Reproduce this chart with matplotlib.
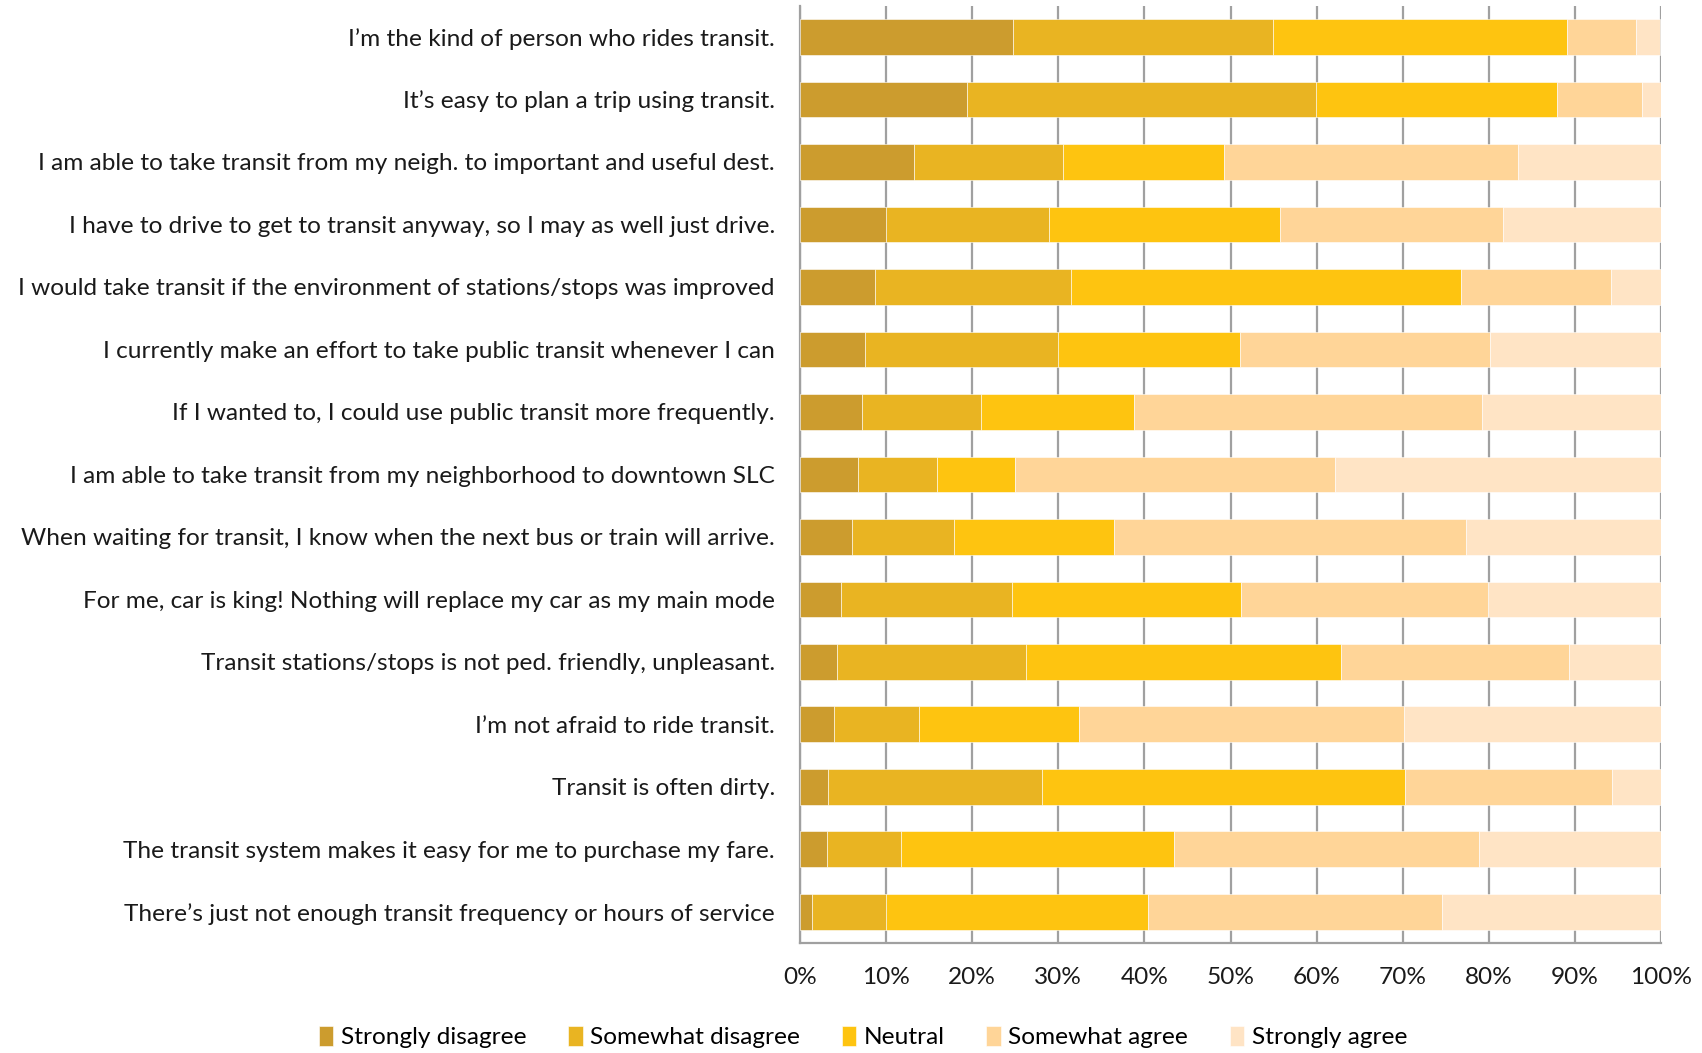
import matplotlib.pyplot as plt
import numpy as np

# ---------------------------
# Data (percent of respondents)
# ---------------------------
statements = [
    "I\u2019m the kind of person who rides transit.",
    "It\u2019s easy to plan a trip using transit.",
    "I am able to take transit from my neigh. to important and useful dest.",
    "I have to drive to get to transit anyway, so I may as well just drive.",
    "I would take transit if the environment of stations/stops was improved",
    "I currently make an effort to take public transit whenever I can",
    "If I wanted to, I could use public transit more frequently.",
    "I am able to take transit from my neighborhood to downtown SLC",
    "When waiting for transit, I know when the next bus or train will arrive.",
    "For me, car is king! Nothing will replace my car as my main mode",
    "Transit stations/stops is not ped. friendly, unpleasant.",
    "I\u2019m not afraid to ride transit.",
    "Transit is often dirty.",
    "The transit system makes it easy for me to purchase my fare.",
    "There\u2019s just not enough transit frequency or hours of service",
]

strongly_disagree = [24.7, 19.4, 13.2, 10.0, 8.7, 7.6, 7.2, 6.7, 6.0, 4.8, 4.3, 4.0, 3.3, 3.1, 1.4]
somewhat_disagree = [30.2, 40.5, 17.3, 18.9, 22.8, 22.4, 13.8, 9.2, 11.9, 19.8, 22.0, 9.8, 24.8, 8.6, 8.6]
neutral = [34.2, 28.0, 18.7, 26.8, 45.3, 21.1, 17.8, 9.1, 18.6, 26.6, 36.5, 18.6, 42.1, 31.7, 30.4]
somewhat_agree = [8.0, 9.9, 34.2, 25.9, 17.4, 29.0, 40.4, 37.1, 40.8, 28.7, 26.5, 37.7, 24.1, 35.5, 34.2]
strongly_agree = [2.8, 2.2, 16.6, 18.4, 5.8, 19.9, 20.8, 37.9, 22.7, 20.1, 10.7, 29.9, 5.7, 21.1, 25.4]

series_names = ["Strongly disagree", "Somewhat disagree", "Neutral",
                "Somewhat agree", "Strongly agree"]
colors = ["#CC9C2E", "#E9B422", "#FEC410", "#FFD598", "#FFE4C5"]

plt.rcParams['font.family'] = ['Lato', 'DejaVu Sans']
fs = 17.6

fig = plt.figure(figsize=(17.02, 10.53), dpi=100)
ax = fig.add_axes([0.470, 0.1045, 0.506, 0.890])

series = [strongly_disagree, somewhat_disagree, neutral, somewhat_agree, strongly_agree]
y = np.arange(len(statements))
left = np.zeros(len(statements))
for vals, name, c in zip(series, series_names, colors):
    vals = np.array(vals)
    ax.barh(y, vals, left=left, height=0.57, color=c, label=name,
            edgecolor="white", linewidth=0.4, zorder=3)
    left += vals

ax.set_ylim(len(statements) - 0.5, -0.5)
ax.set_xlim(0, 100)
ax.set_yticks(y)
ax.set_yticklabels(statements, fontsize=fs, color="#1a1a1a")
ax.set_xticks(np.arange(0, 101, 10))
ax.set_xticklabels([f"{v}%" for v in range(0, 101, 10)], fontsize=fs, color="#1a1a1a")
ax.tick_params(axis="y", length=0, pad=18)
ax.tick_params(axis="x", length=0, pad=17)

ax.grid(axis="x", color="#A0A0A0", linewidth=1.6, zorder=0)
for side in ["top", "right"]:
    ax.spines[side].set_visible(False)
for side in ["left", "bottom"]:
    ax.spines[side].set_color("#A0A0A0")
    ax.spines[side].set_linewidth(1.6)

fig.legend(loc="center", bbox_to_anchor=(0.507, 0.0152), ncol=5, frameon=False,
           fontsize=fs, handlelength=0.6, handleheight=0.9, handletextpad=0.3,
           columnspacing=1.7)

fig.savefig("out.png", dpi=100)
